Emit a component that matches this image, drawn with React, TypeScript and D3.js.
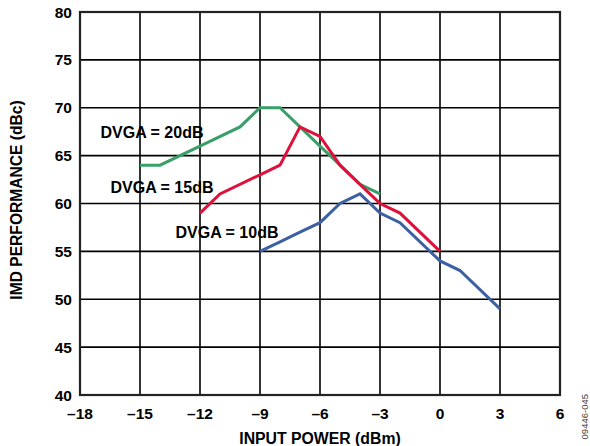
import React from "react";
import * as d3 from "d3";

const xTicks = [-18, -15, -12, -9, -6, -3, 0, 3, 6];
const yTicks = [40, 45, 50, 55, 60, 65, 70, 75, 80];

const dvga20X = [-15, -14, -12, -10, -9, -8, -7, -6, -5, -4, -3];
const dvga20Y = [64, 64, 66, 68, 70, 70, 68, 66, 64, 62, 61];

const dvga15X = [-12, -11, -9, -8, -7, -6, -5, -4, -3, -2, 0];
const dvga15Y = [59, 61, 63, 64, 68, 67, 64, 62, 60, 59, 55];

const dvga10X = [-9, -8, -7, -6, -5, -4, -3, -2, 0, 1, 3];
const dvga10Y = [55, 56, 57, 58, 60, 61, 59, 58, 54, 53, 49];

const seriesNames = ["DVGA = 20dB", "DVGA = 15dB", "DVGA = 10dB"];
const seriesColors = ["#3a9e68", "#e0103a", "#3c60a2"];

export default function App() {
  const W = 590, H = 446;
  const L = 80, R = 560, T = 12, B = 395;
  const x = d3.scaleLinear().domain([-18, 6]).range([L, R]);
  const y = d3.scaleLinear().domain([40, 80]).range([B, T]);
  const line = d3.line<[number, number]>().x(d => x(d[0])).y(d => y(d[1]));
  const series = [
    { xs: dvga20X, ys: dvga20Y },
    { xs: dvga15X, ys: dvga15Y },
    { xs: dvga10X, ys: dvga10Y },
  ];
  const labelPos = [
    { x: 152, y: 138 },
    { x: 162, y: 193 },
    { x: 227, y: 238 },
  ];
  const font = "Arial, 'Liberation Sans', Helvetica, sans-serif";
  return (
    <svg width={W} height={H} style={{ position: "absolute", left: 0, top: 0, background: "#fff" }}>
      {xTicks.map(t => (
        <line key={"gx" + t} x1={x(t)} x2={x(t)} y1={T} y2={B} stroke="#000" strokeWidth={1.6} />
      ))}
      {yTicks.map(t => (
        <line key={"gy" + t} x1={L} x2={R} y1={y(t)} y2={y(t)} stroke="#000" strokeWidth={1.6} />
      ))}
      <rect x={L} y={T} width={R - L} height={B - T} fill="none" stroke="#222" strokeWidth={2.2} />
      {series.map((s, i) => (
        <path
          key={"s" + i}
          d={line(s.xs.map((v, j) => [v, s.ys[j]] as [number, number])) || ""}
          fill="none"
          stroke={seriesColors[i]}
          strokeWidth={3}
          strokeLinejoin="miter"
        />
      ))}
      {seriesNames.map((n, i) => (
        <text key={"l" + i} x={labelPos[i].x} y={labelPos[i].y} textAnchor="middle"
          fontFamily={font} fontWeight="bold" fontSize={16} fill="#000">{n}</text>
      ))}
      {yTicks.map(t => (
        <text key={"ty" + t} x={72} y={y(t) + 5.5} textAnchor="end"
          fontFamily={font} fontWeight="bold" fontSize={15.5} fill="#000">{t}</text>
      ))}
      {xTicks.map(t => (
        <text key={"tx" + t} x={x(t)} y={419} textAnchor="middle"
          fontFamily={font} fontWeight="bold" fontSize={15.5} fill="#000">{t < 0 ? "\u2013" + Math.abs(t) : String(t)}</text>
      ))}
      <text x={320} y={444} textAnchor="middle" fontFamily={font} fontWeight="bold" fontSize={15.8} fill="#000">
        INPUT POWER (dBm)
      </text>
      <text transform="translate(22,200) rotate(-90)" textAnchor="middle" fontFamily={font}
        fontWeight="bold" fontSize={15.6} fill="#000">
        IMD PERFORMANCE (dBc)
      </text>
      <text transform="translate(588,394) rotate(-90)" textAnchor="end" fontFamily={font}
        fontSize={9.5} fill="#444">
        09446-045
      </text>
    </svg>
  );
}
